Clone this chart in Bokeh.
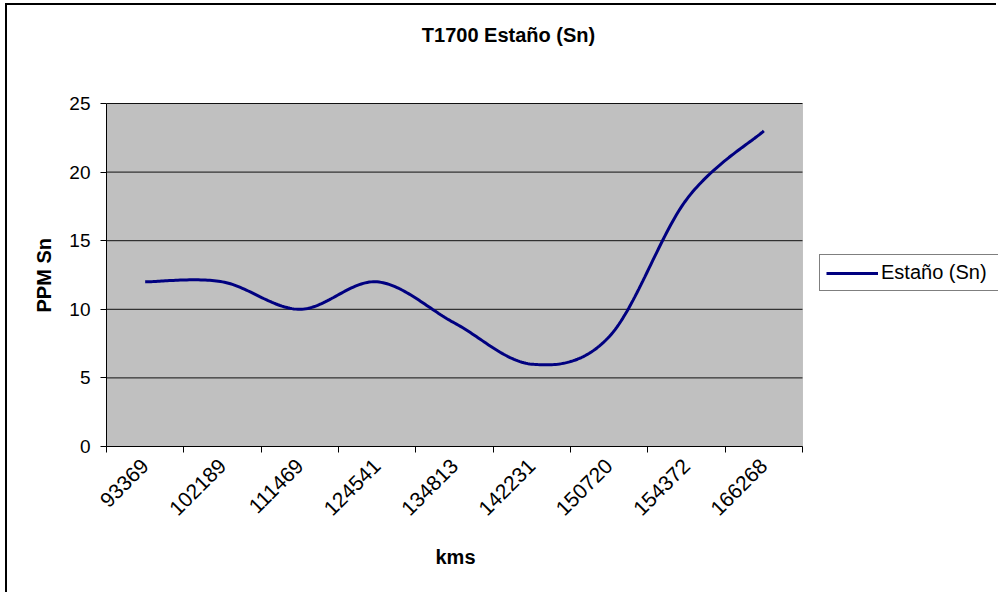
import numpy as np
from bokeh.plotting import figure
from bokeh.models import (FixedTicker, Legend, LegendItem, Range1d, BoxAnnotation,
                          Label, Title)
from bokeh.embed import file_html
from bokeh.resources import INLINE

# ---- data ----
categories = ["93369", "102189", "111469", "124541", "134813",
              "142231", "150720", "154372", "166268"]
ppm_sn = [12, 12, 10, 12, 9, 6, 8, 18, 23]
y_ticks = [0, 5, 10, 15, 20, 25]
y_max = 25
series_name = "Estaño (Sn)"
title_text = "T1700 Estaño (Sn)"
x_title = "kms"
y_title = "PPM Sn"

FONT = "Liberation Sans"
LINE = "#000080"

# ---- layout (pixels) ----
W, H = 991, 589                 # canvas; it starts at window (7, 5) after the border
LEFT, BOTTOM = 99, 148          # frame left / bottom borders
PLOT_W, PLOT_H = 696, 343       # size of the grey plot area
FRAME_W, FRAME_H = W - LEFT, H - BOTTOM
n = len(categories)
px_x = PLOT_W / n
px_y = PLOT_H / y_max

# category centres on a numeric axis
xc = np.arange(n) + 0.5
yv = np.array(ppm_sn, dtype=float)


def smooth(x, y, k=40):
    """Excel-like smoothed line (Catmull-Rom as cubic Bezier)."""
    px = np.concatenate([[x[0]], x, [x[-1]]])
    py = np.concatenate([[y[0]], y, [y[-1]]])
    ox, oy = [], []
    t = np.linspace(0, 1, k)
    for i in range(1, len(px) - 2):
        p0 = np.array([px[i], py[i]])
        p3 = np.array([px[i + 1], py[i + 1]])
        c1 = p0 + (np.array([px[i + 1], py[i + 1]]) - np.array([px[i - 1], py[i - 1]])) / 6
        c2 = p3 - (np.array([px[i + 2], py[i + 2]]) - np.array([px[i], py[i]])) / 6
        b = ((1 - t) ** 3)[:, None] * p0 + (3 * (1 - t) ** 2 * t)[:, None] * c1 \
            + (3 * (1 - t) * t ** 2)[:, None] * c2 + (t ** 3)[:, None] * p3
        ox.extend(b[:, 0]); oy.extend(b[:, 1])
    return ox, oy


sx, sy = smooth(xc, yv)

p = figure(width=W, height=H, output_backend="svg", toolbar_location=None, title=None,
           x_range=Range1d(0, FRAME_W / px_x), y_range=Range1d(0, FRAME_H / px_y),
           min_border_left=LEFT, min_border_right=0,
           min_border_top=0, min_border_bottom=BOTTOM)
p.styles = {"border-left": "2px solid black", "border-top": "2px solid black",
            "margin-left": "5px", "margin-top": "3px"}

p.background_fill_color = "white"
p.border_fill_color = "white"
p.outline_line_color = None

# grey plot area
p.add_layout(BoxAnnotation(left=0, right=n, bottom=0, top=y_max,
                           fill_color="#C0C0C0", fill_alpha=1,
                           line_color="#808080", line_width=1, level="underlay"))

# horizontal grid lines at the y ticks
p.xgrid.grid_line_color = None
p.ygrid.grid_line_color = None
p.segment(x0=[0] * len(y_ticks), x1=[n] * len(y_ticks), y0=y_ticks, y1=y_ticks,
          line_color="#101010", line_width=1)

# x axis: ticks at category boundaries, labels at centres
xa = p.xaxis[0]
xa.bounds = (0, n)
xa.ticker = FixedTicker(ticks=list(xc), minor_ticks=list(range(n + 1)))
xa.major_label_overrides = {float(v): c for v, c in zip(xc, categories)}
xa.major_label_orientation = np.pi / 4
xa.major_tick_out = 0
xa.major_tick_in = 0
xa.minor_tick_out = 6
xa.minor_tick_in = 0
xa.minor_tick_line_color = "black"
xa.axis_line_color = "black"
xa.major_label_text_font = FONT
xa.major_label_text_font_size = "21px"
xa.major_label_text_color = "black"
xa.major_label_standoff = 10

ya = p.yaxis[0]
ya.bounds = (0, y_max)
ya.ticker = FixedTicker(ticks=y_ticks)
ya.major_tick_out = 6
ya.major_tick_in = 0
ya.minor_tick_out = 0
ya.minor_tick_in = 0
ya.axis_line_color = "black"
ya.major_tick_line_color = "black"
ya.major_label_text_font = FONT
ya.major_label_text_font_size = "19px"
ya.major_label_text_color = "black"
ya.major_label_standoff = 10

# axis titles, centred on the grey plot area (not on the whole frame)
p.add_layout(Title(text=x_title, align="left", offset=329, vertical_align="top",
                   standoff=42, text_font=FONT, text_font_size="20px",
                   text_font_style="bold", text_color="black"), "below")
p.add_layout(Title(text=y_title, align="left", offset=134, vertical_align="bottom",
                   standoff=24, text_font=FONT, text_font_size="20px",
                   text_font_style="bold", text_color="black"), "left")

r = p.line(sx, sy, line_color=LINE, line_width=3)

# chart title (inside the frame, above the plot area)
p.add_layout(Label(x=(508 - 106) / px_x, y=(441 - 29) / px_y, text=title_text,
                   text_align="center", text_baseline="alphabetic",
                   text_font=FONT, text_font_size="20px", text_font_style="bold",
                   text_color="black"))

legend = Legend(items=[LegendItem(label=series_name, renderers=[r])],
                location=(713, 155), orientation="vertical")
legend.margin = 0
legend.padding = 6
legend.spacing = 0
legend.glyph_width = 52
legend.glyph_height = 20
legend.label_height = 20
legend.label_width = 140
legend.label_standoff = 3
legend.label_text_font = FONT
legend.label_text_font_size = "20px"
legend.label_text_color = "black"
legend.border_line_color = "black"
legend.border_line_width = 1
legend.background_fill_color = "white"
legend.background_fill_alpha = 1
p.add_layout(legend, "center")

open("out.html", "w").write(file_html(p, INLINE))
